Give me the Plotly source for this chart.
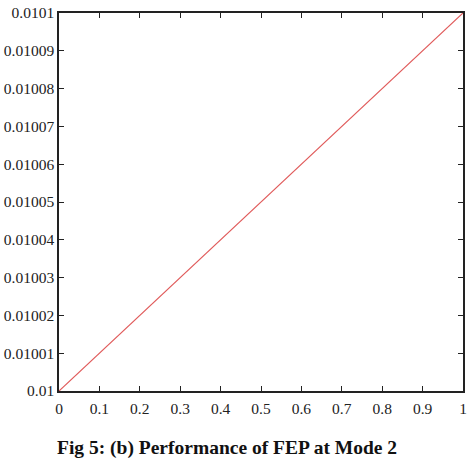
import plotly.graph_objects as go

x_vals = [0.0, 1.0]
y_vals = [0.01, 0.0101]
x_ticks = [0, 0.1, 0.2, 0.3, 0.4, 0.5, 0.6, 0.7, 0.8, 0.9, 1]
x_tick_text = ["0", "0.1", "0.2", "0.3", "0.4", "0.5", "0.6", "0.7", "0.8", "0.9", "1"]
y_ticks = [0.01, 0.01001, 0.01002, 0.01003, 0.01004, 0.01005, 0.01006, 0.01007, 0.01008, 0.01009, 0.0101]
y_tick_text = ["0.01", "0.01001", "0.01002", "0.01003", "0.01004", "0.01005", "0.01006", "0.01007", "0.01008", "0.01009", "0.0101"]
caption = "Fig 5: (b) Performance of FEP at Mode 2"

fig = go.Figure()
fig.add_trace(go.Scatter(x=x_vals, y=y_vals, mode="lines",
                         line=dict(color="#e05a5a", width=1.2), showlegend=False))

axis_common = dict(showgrid=False, zeroline=False, showline=True, linecolor="#222",
                   linewidth=1.5, mirror="ticks", ticks="inside", ticklen=5,
                   tickcolor="#222", tickwidth=1,
                   tickfont=dict(family="Liberation Serif", size=15.5, color="#222"))

fig.update_xaxes(range=[0, 1], tickvals=x_ticks, ticktext=x_tick_text,
                 ticklabelstandoff=3, **axis_common)
fig.update_yaxes(range=[0.01, 0.0101], tickvals=y_ticks, ticktext=y_tick_text, **axis_common)

fig.add_annotation(text="<b>" + caption + "</b>", xref="paper", yref="paper",
                   x=0.416, y=-0.152, xanchor="center", yanchor="middle", showarrow=False,
                   font=dict(family="Liberation Serif", size=19.5, color="#111"))

fig.update_layout(width=471, height=460, margin=dict(l=58, r=4, t=10, b=69),
                  plot_bgcolor="white", paper_bgcolor="white")

fig.write_html("out.html")
